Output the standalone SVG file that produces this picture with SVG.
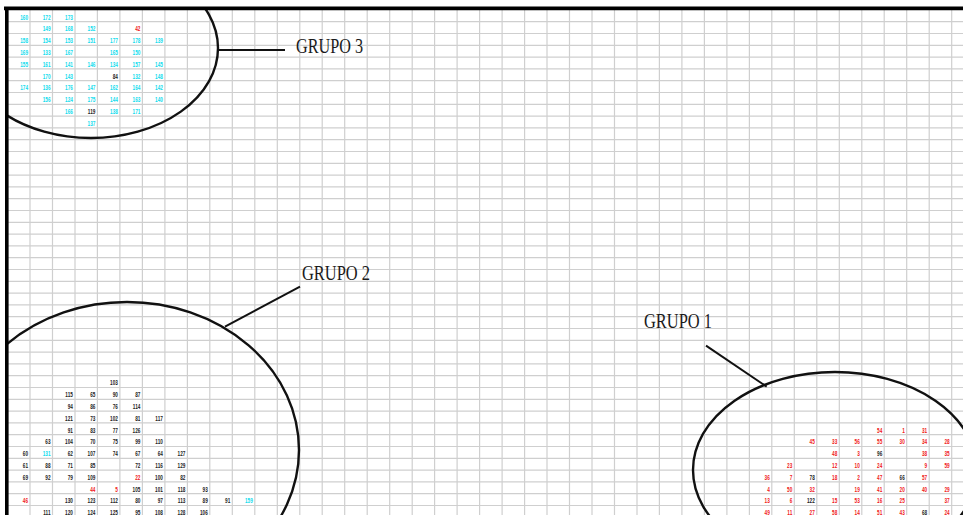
<svg xmlns="http://www.w3.org/2000/svg" width="963" height="515" viewBox="0 0 963 515">
<style>
.grid{stroke:#cfcfcf;stroke-width:1.2;fill:none}
.border{stroke:#000;stroke-width:3.6;fill:none}
.ell{fill:none;stroke:#111;stroke-width:2.4}
.lead{stroke:#111;stroke-width:2;fill:none}
.lbl{font-family:"Liberation Serif","Times New Roman",serif;font-size:21px;fill:#1a1a1a}
.nums text{font-family:"Liberation Sans",Arial,sans-serif;font-size:7.5px;font-weight:bold;text-anchor:end}
.c{fill:#10dced}
.r{fill:#f01818}
.k{fill:#222}
</style>
<defs>
<clipPath id="area"><rect x="7" y="8" width="956" height="507"/></clipPath>
</defs>
<rect width="963" height="515" fill="#fff"/>
<g id="grid">
<path class="grid" d="M8 21.7H963M8 33.5H963M8 45.3H963M8 57.1H963M8 68.9H963M8 80.7H963M8 92.5H963M8 104.3H963M8 116.1H963M8 127.9H963M8 139.7H963M8 151.5H963M8 163.3H963M8 175.1H963M8 186.9H963M8 198.7H963M8 210.5H963M8 222.3H963M8 234.1H963M8 245.9H963M8 257.7H963M8 269.5H963M8 281.3H963M8 293.1H963M8 304.9H963M8 316.7H963M8 328.5H963M8 340.3H963M8 352.1H963M8 363.9H963M8 375.7H963M8 387.5H963M8 399.3H963M8 411.1H963M8 422.9H963M8 434.7H963M8 446.5H963M8 458.3H963M8 470.1H963M8 481.9H963M8 493.7H963M8 505.5H963"/>
<path class="grid" d="M30 9V515M52.5 9V515M75 9V515M97.4 9V515M119.9 9V515M142.4 9V515M164.9 9V515M187.4 9V515M209.8 9V515M232.3 9V515M254.8 9V515M277.3 9V515M299.8 9V515M322.2 9V515M344.7 9V515M367.2 9V515M389.7 9V515M412.2 9V515M434.6 9V515M457.1 9V515M479.6 9V515M502.1 9V515M524.6 9V515M547 9V515M569.5 9V515M592 9V515M614.5 9V515M637 9V515M659.4 9V515M681.9 9V515M704.4 9V515M726.9 9V515M749.4 9V515M771.8 9V515M794.3 9V515M816.8 9V515M839.3 9V515M861.8 9V515M884.2 9V515M906.7 9V515M929.2 9V515M951.7 9V515"/>
</g>
<g class="nums" transform="scale(0.625,1)">
<g id="cells-top">
<text class="c" x="44.8" y="19.7">160</text><text class="c" x="80.8" y="19.7">172</text><text class="c" x="116.7" y="19.7">173</text>
<text class="c" x="80.8" y="31.5">149</text><text class="c" x="116.7" y="31.5">168</text><text class="c" x="152.7" y="31.5">152</text><text class="r" x="224.6" y="31.5">42</text>
<text class="c" x="44.8" y="43.3">158</text><text class="c" x="80.8" y="43.3">154</text><text class="c" x="116.7" y="43.3">153</text><text class="c" x="152.7" y="43.3">151</text><text class="c" x="188.7" y="43.3">177</text><text class="c" x="224.6" y="43.3">178</text><text class="c" x="260.6" y="43.3">139</text>
<text class="c" x="44.8" y="55.1">169</text><text class="c" x="80.8" y="55.1">133</text><text class="c" x="116.7" y="55.1">167</text><text class="c" x="188.7" y="55.1">165</text><text class="c" x="224.6" y="55.1">150</text>
<text class="c" x="44.8" y="66.9">155</text><text class="c" x="80.8" y="66.9">161</text><text class="c" x="116.7" y="66.9">141</text><text class="c" x="152.7" y="66.9">146</text><text class="c" x="188.7" y="66.9">134</text><text class="c" x="224.6" y="66.9">157</text><text class="c" x="260.6" y="66.9">145</text>
<text class="c" x="80.8" y="78.7">170</text><text class="c" x="116.7" y="78.7">143</text><text class="k" x="188.7" y="78.7">84</text><text class="c" x="224.6" y="78.7">132</text><text class="c" x="260.6" y="78.7">148</text>
<text class="c" x="44.8" y="90.5">174</text><text class="c" x="80.8" y="90.5">136</text><text class="c" x="116.7" y="90.5">176</text><text class="c" x="152.7" y="90.5">147</text><text class="c" x="188.7" y="90.5">162</text><text class="c" x="224.6" y="90.5">164</text><text class="c" x="260.6" y="90.5">142</text>
<text class="c" x="80.8" y="102.3">156</text><text class="c" x="116.7" y="102.3">124</text><text class="c" x="152.7" y="102.3">175</text><text class="c" x="188.7" y="102.3">144</text><text class="c" x="224.6" y="102.3">163</text><text class="c" x="260.6" y="102.3">140</text>
<text class="c" x="116.7" y="114.1">166</text><text class="k" x="152.7" y="114.1">119</text><text class="c" x="188.7" y="114.1">138</text><text class="c" x="224.6" y="114.1">171</text>
<text class="c" x="152.7" y="125.9">137</text>
</g>
<g id="cells-left">
<text class="k" x="188.7" y="385.5">103</text>
<text class="k" x="116.7" y="397.3">115</text><text class="k" x="152.7" y="397.3">65</text><text class="k" x="188.7" y="397.3">90</text><text class="k" x="224.6" y="397.3">87</text>
<text class="k" x="116.7" y="409.1">94</text><text class="k" x="152.7" y="409.1">86</text><text class="k" x="188.7" y="409.1">76</text><text class="k" x="224.6" y="409.1">114</text>
<text class="k" x="116.7" y="420.9">121</text><text class="k" x="152.7" y="420.9">73</text><text class="k" x="188.7" y="420.9">102</text><text class="k" x="224.6" y="420.9">81</text><text class="k" x="260.6" y="420.9">117</text>
<text class="k" x="116.7" y="432.7">91</text><text class="k" x="152.7" y="432.7">83</text><text class="k" x="188.7" y="432.7">77</text><text class="k" x="224.6" y="432.7">126</text>
<text class="k" x="80.8" y="444.5">63</text><text class="k" x="116.7" y="444.5">104</text><text class="k" x="152.7" y="444.5">70</text><text class="k" x="188.7" y="444.5">75</text><text class="k" x="224.6" y="444.5">99</text><text class="k" x="260.6" y="444.5">110</text>
<text class="k" x="44.8" y="456.3">60</text><text class="c" x="80.8" y="456.3">131</text><text class="k" x="116.7" y="456.3">62</text><text class="k" x="152.7" y="456.3">107</text><text class="k" x="188.7" y="456.3">74</text><text class="k" x="224.6" y="456.3">67</text><text class="k" x="260.6" y="456.3">64</text><text class="k" x="296.6" y="456.3">127</text>
<text class="k" x="44.8" y="468.1">61</text><text class="k" x="80.8" y="468.1">88</text><text class="k" x="116.7" y="468.1">71</text><text class="k" x="152.7" y="468.1">85</text><text class="k" x="224.6" y="468.1">72</text><text class="k" x="260.6" y="468.1">116</text><text class="k" x="296.6" y="468.1">129</text>
<text class="k" x="44.8" y="479.9">69</text><text class="k" x="80.8" y="479.9">92</text><text class="k" x="116.7" y="479.9">79</text><text class="k" x="152.7" y="479.9">109</text><text class="r" x="224.6" y="479.9">22</text><text class="k" x="260.6" y="479.9">100</text><text class="k" x="296.6" y="479.9">82</text>
<text class="r" x="152.7" y="491.7">44</text><text class="r" x="188.7" y="491.7">5</text><text class="k" x="224.6" y="491.7">105</text><text class="k" x="260.6" y="491.7">101</text><text class="k" x="296.6" y="491.7">118</text><text class="k" x="332.5" y="491.7">93</text>
<text class="r" x="44.8" y="503.5">46</text><text class="k" x="116.7" y="503.5">130</text><text class="k" x="152.7" y="503.5">123</text><text class="k" x="188.7" y="503.5">112</text><text class="k" x="224.6" y="503.5">80</text><text class="k" x="260.6" y="503.5">97</text><text class="k" x="296.6" y="503.5">113</text><text class="k" x="332.5" y="503.5">89</text><text class="k" x="368.5" y="503.5">91</text><text class="c" x="404.5" y="503.5">159</text>
<text class="k" x="80.8" y="515.3">111</text><text class="k" x="116.7" y="515.3">120</text><text class="k" x="152.7" y="515.3">124</text><text class="k" x="188.7" y="515.3">125</text><text class="k" x="224.6" y="515.3">95</text><text class="k" x="260.6" y="515.3">108</text><text class="k" x="296.6" y="515.3">128</text><text class="k" x="332.5" y="515.3">106</text>
</g>
<g id="cells-right">
<text class="r" x="1411.6" y="432.7">54</text><text class="r" x="1447.6" y="432.7">1</text><text class="r" x="1483.5" y="432.7">31</text>
<text class="r" x="1303.7" y="444.5">45</text><text class="r" x="1339.6" y="444.5">33</text><text class="r" x="1375.6" y="444.5">56</text><text class="r" x="1411.6" y="444.5">55</text><text class="r" x="1447.6" y="444.5">30</text><text class="r" x="1483.5" y="444.5">34</text><text class="r" x="1519.5" y="444.5">28</text>
<text class="r" x="1339.6" y="456.3">48</text><text class="r" x="1375.6" y="456.3">3</text><text class="k" x="1411.6" y="456.3">96</text><text class="r" x="1483.5" y="456.3">38</text><text class="r" x="1519.5" y="456.3">35</text>
<text class="r" x="1267.7" y="468.1">23</text><text class="r" x="1339.6" y="468.1">12</text><text class="r" x="1375.6" y="468.1">10</text><text class="r" x="1411.6" y="468.1">24</text><text class="r" x="1483.5" y="468.1">9</text><text class="r" x="1519.5" y="468.1">59</text>
<text class="r" x="1231.7" y="479.9">36</text><text class="r" x="1267.7" y="479.9">7</text><text class="k" x="1303.7" y="479.9">78</text><text class="r" x="1339.6" y="479.9">18</text><text class="r" x="1375.6" y="479.9">2</text><text class="r" x="1411.6" y="479.9">47</text><text class="k" x="1447.6" y="479.9">66</text><text class="r" x="1483.5" y="479.9">57</text>
<text class="r" x="1231.7" y="491.7">4</text><text class="r" x="1267.7" y="491.7">50</text><text class="r" x="1303.7" y="491.7">32</text><text class="r" x="1375.6" y="491.7">19</text><text class="r" x="1411.6" y="491.7">41</text><text class="r" x="1447.6" y="491.7">20</text><text class="r" x="1483.5" y="491.7">40</text><text class="r" x="1519.5" y="491.7">29</text>
<text class="r" x="1231.7" y="503.5">13</text><text class="r" x="1267.7" y="503.5">6</text><text class="k" x="1303.7" y="503.5">122</text><text class="r" x="1339.6" y="503.5">15</text><text class="r" x="1375.6" y="503.5">53</text><text class="r" x="1411.6" y="503.5">16</text><text class="r" x="1447.6" y="503.5">25</text><text class="r" x="1519.5" y="503.5">37</text>
<text class="r" x="1231.7" y="515.3">49</text><text class="r" x="1267.7" y="515.3">11</text><text class="r" x="1303.7" y="515.3">27</text><text class="r" x="1339.6" y="515.3">58</text><text class="r" x="1375.6" y="515.3">14</text><text class="r" x="1411.6" y="515.3">51</text><text class="r" x="1447.6" y="515.3">43</text><text class="k" x="1483.5" y="515.3">68</text><text class="r" x="1519.5" y="515.3">24</text>
</g>
</g>
<g id="grupo3">
<ellipse class="ell" cx="91" cy="48" rx="127" ry="90" clip-path="url(#area)"/>
<text class="lbl" x="296" y="53" textLength="67" lengthAdjust="spacingAndGlyphs">GRUPO 3</text>
</g>
<g id="grupo2">
<ellipse class="ell" cx="127" cy="450" rx="172" ry="148" clip-path="url(#area)"/>
<text class="lbl" x="302" y="280" textLength="68" lengthAdjust="spacingAndGlyphs">GRUPO 2</text>
</g>
<g id="grupo1">
<ellipse class="ell" cx="835" cy="470" rx="142" ry="98" clip-path="url(#area)"/>
<text class="lbl" x="644" y="328" textLength="68" lengthAdjust="spacingAndGlyphs">GRUPO 1</text>
</g>
<g id="connectors">
<path class="lead" d="M217 50H285"/>
<path class="lead" d="M225 326.7L300 286.7"/>
<path class="lead" d="M706 345.7L766.7 386.7"/>
</g>
<g id="frame">
<path class="border" d="M4 8.4H963M6.8 6.6V515"/>
</g>
</svg>
